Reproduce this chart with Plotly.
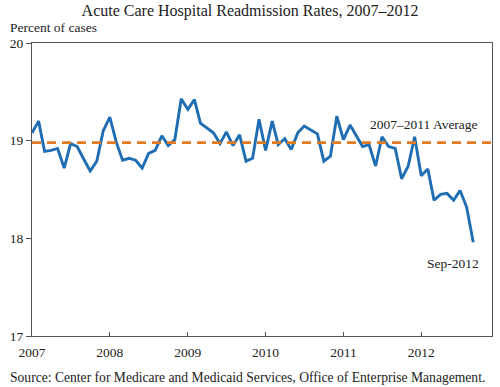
import pandas as pd
import plotly.graph_objects as go

start_month = "2007-01-01"
rates = [
    19.08, 19.20, 18.89, 18.90, 18.92, 18.72, 18.97, 18.94, 18.81, 18.69, 18.79, 19.10,
    19.24, 18.98, 18.80, 18.82, 18.80, 18.72, 18.87, 18.90, 19.05, 18.95, 19.01, 19.43,
    19.32, 19.42, 19.18, 19.13, 19.08, 18.97, 19.09, 18.95, 19.06, 18.79, 18.82, 19.22,
    18.90, 19.20, 18.96, 19.02, 18.91, 19.08, 19.15, 19.11, 19.07, 18.79, 18.84, 19.25,
    19.01, 19.16, 19.06, 18.94, 18.96, 18.74, 19.04, 18.94, 18.92, 18.61, 18.74, 19.04,
    18.64, 18.71, 18.39, 18.45, 18.46, 18.39, 18.49, 18.32, 17.96,
]
months = pd.date_range(start_month, periods=len(rates), freq="MS")
average_2007_2011 = 18.98
year_ticks = ["2007-01-01", "2008-01-01", "2009-01-01", "2010-01-01", "2011-01-01", "2012-01-01"]
year_labels = ["2007", "2008", "2009", "2010", "2011", "2012"]
y_ticks = [17, 18, 19, 20]

SERIF = "Liberation Serif, Times New Roman, serif"
BLUE = "#1f6db3"
ORANGE = "#e07b24"
TXT = "#222"

fig = go.Figure()
fig.add_trace(go.Scatter(x=months, y=rates, mode="lines",
                         line=dict(color=BLUE, width=2.9), hoverinfo="skip"))
fig.add_shape(type="line", xref="paper", x0=0, x1=1, yref="y",
              y0=average_2007_2011, y1=average_2007_2011,
              line=dict(color=ORANGE, width=2.8, dash="9px,6px"), layer="above")

fig.update_layout(
    width=500, height=387,
    margin=dict(l=32, r=8, t=43, b=51),
    paper_bgcolor="white", plot_bgcolor="white",
    showlegend=False, hovermode=False,
    font=dict(family=SERIF, size=13, color=TXT),
    title=dict(text="Acute Care Hospital Readmission Rates, 2007\u20132012",
               x=0.5, xanchor="center", y=1 - 10 / 387, yanchor="middle",
               font=dict(family=SERIF, size=16, color=TXT)),
)
fig.update_xaxes(
    type="date", range=["2007-01-01", "2012-11-28"],
    tickvals=year_ticks, ticktext=year_labels,
    ticks="inside", ticklen=4, tickcolor="#555", ticklabelstandoff=4,
    showline=True, linecolor="#555", linewidth=1, mirror=True,
    showgrid=False, zeroline=False,
    tickfont=dict(family=SERIF, size=13.5, color=TXT),
)
fig.update_yaxes(
    range=[17, 20], tickvals=y_ticks,
    ticks="outside", ticklen=5, tickcolor="#555",
    showline=True, linecolor="#555", linewidth=1, mirror=True,
    showgrid=False, zeroline=False,
    tickfont=dict(family=SERIF, size=13.5, color=TXT),
)

fig.add_annotation(text="Percent of cases", xref="paper", yref="paper",
                   x=(8 - 32) / 460, y=1 + 16 / 293, xanchor="left", yanchor="middle",
                   showarrow=False, font=dict(family=SERIF, size=13.5, color=TXT))
fig.add_annotation(text="2007\u20132011 Average", xref="paper", yref="y",
                   x=(423.5 - 32) / 460, y=19.17, xanchor="center", yanchor="middle",
                   showarrow=False, font=dict(family=SERIF, size=13.5, color=TXT))
fig.add_annotation(text="Sep-2012", xref="paper", yref="y",
                   x=(453 - 32) / 460, y=17.74, xanchor="center", yanchor="middle",
                   showarrow=False, font=dict(family=SERIF, size=13.5, color=TXT))
fig.add_annotation(text="Source: Center for Medicare and Medicaid Services, Office of Enterprise Management.",
                   xref="paper", yref="paper", x=(8 - 32) / 460, y=(336 - 377) / 293,
                   xanchor="left", yanchor="middle", showarrow=False,
                   font=dict(family=SERIF, size=13.6, color=TXT))

fig.write_html("out.html", config={"displayModeBar": False, "staticPlot": True},
               post_script="document.body.style.margin='0';document.body.style.overflow='hidden';")
